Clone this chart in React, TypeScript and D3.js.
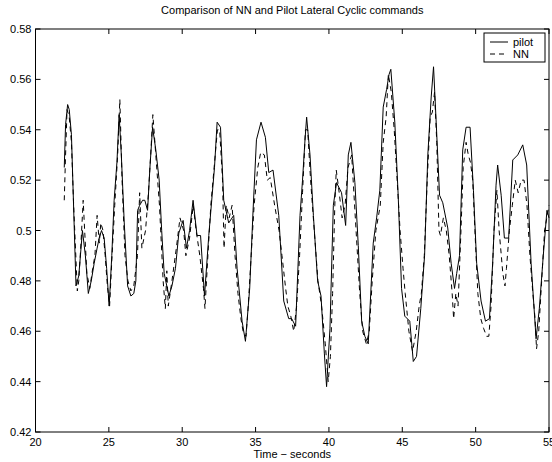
import React from 'react';
import * as d3 from 'd3';

// pilot lateral cyclic command (time s, value)
const pilotT = [21.96, 22.05, 22.19, 22.3, 22.45, 22.76, 22.95, 23.2, 23.4, 23.6, 23.8, 24.0, 24.2, 24.34, 24.5, 24.68, 24.85, 25.02,
  25.2, 25.36, 25.55, 25.7, 25.85, 26.05, 26.28, 26.5, 26.7, 26.84, 26.96, 27.1, 27.3, 27.45, 27.64, 27.8, 27.98, 28.2, 28.43, 28.6,
  28.77, 29.09, 29.3, 29.54, 29.77, 30.06, 30.29, 30.5, 30.74, 31.01, 31.25, 31.52, 31.81, 32.04, 32.2, 32.38, 32.61, 32.83, 33.17,
  33.51, 33.74, 34.08, 34.31, 34.6, 34.83, 35.06, 35.37, 35.67, 35.9, 36.19, 36.58, 36.92, 37.26, 37.46, 37.73, 38.03, 38.2, 38.37,
  38.48, 38.71, 38.94, 39.23, 39.46, 39.69, 39.84, 40.07, 40.3, 40.52, 40.86, 41.14, 41.32, 41.5, 41.77, 42.0, 42.23, 42.45, 42.68,
  43.02, 43.25, 43.47, 43.7, 43.93, 44.1, 44.22, 44.49, 44.72, 44.95, 45.17, 45.51, 45.75, 45.97, 46.26, 46.52, 46.74, 46.97, 47.13,
  47.31, 47.54, 47.76, 48.1, 48.33, 48.56, 48.71, 48.9, 49.12, 49.35, 49.62, 49.85, 50.07, 50.37, 50.67, 50.94, 51.16, 51.39, 51.5,
  51.74, 51.96, 52.25, 52.53, 52.87, 53.21, 53.48, 53.78, 54.12, 54.34, 54.61, 54.86, 55.0];
const pilotV = [0.525, 0.542, 0.55, 0.548, 0.538, 0.478, 0.482, 0.5, 0.49, 0.475, 0.48, 0.487, 0.493, 0.497, 0.5, 0.497, 0.485, 0.47,
  0.49, 0.512, 0.527, 0.546, 0.53, 0.503, 0.478, 0.474, 0.475, 0.48, 0.508, 0.51, 0.512, 0.512, 0.508, 0.525, 0.541, 0.532, 0.52, 0.5,
  0.483, 0.474, 0.478, 0.485, 0.499, 0.504, 0.493, 0.5, 0.512, 0.498, 0.498, 0.474, 0.498, 0.514, 0.525, 0.543, 0.541, 0.512, 0.503,
  0.506, 0.485, 0.464, 0.456, 0.477, 0.508, 0.536, 0.543, 0.537, 0.523, 0.524, 0.506, 0.472, 0.465, 0.465, 0.462, 0.506, 0.52, 0.536,
  0.545, 0.53, 0.506, 0.48, 0.474, 0.451, 0.438, 0.461, 0.51, 0.519, 0.515, 0.502, 0.53, 0.535, 0.519, 0.494, 0.464, 0.458, 0.455,
  0.495, 0.505, 0.516, 0.549, 0.556, 0.562, 0.564, 0.543, 0.514, 0.477, 0.466, 0.464, 0.448, 0.45, 0.469, 0.49, 0.53, 0.553, 0.565,
  0.543, 0.514, 0.511, 0.501, 0.487, 0.477, 0.483, 0.49, 0.532, 0.541, 0.541, 0.516, 0.487, 0.472, 0.464, 0.465, 0.487, 0.518, 0.526,
  0.514, 0.497, 0.497, 0.528, 0.53, 0.534, 0.526, 0.487, 0.457, 0.469, 0.49, 0.508, 0.505];

// neural network output
const nnT = [21.96, 22.05, 22.15, 22.3, 22.45, 22.6, 22.85, 22.95, 23.1, 23.25, 23.35, 23.5, 23.7, 23.9, 24.05, 24.2, 24.35, 24.45,
  24.6, 24.75, 24.9, 25.05, 25.2, 25.4, 25.6, 25.75, 25.9, 26.1, 26.3, 26.5, 26.7, 26.95, 27.1, 27.25, 27.5, 27.7, 27.85, 28.0, 28.2,
  28.45, 28.7, 28.85, 28.95, 29.05, 29.3, 29.6, 29.85, 30.1, 30.25, 30.5, 30.75, 30.95, 31.2, 31.45, 31.55, 31.75, 31.95, 32.1, 32.25,
  32.4, 32.55, 32.75, 32.85, 33.0, 33.2, 33.4, 33.6, 33.8, 34.0, 34.15, 34.35, 34.5, 34.7, 34.9, 35.15, 35.35, 35.6, 35.8, 36.0, 36.3,
  36.6, 36.8, 37.05, 37.2, 37.4, 37.6, 37.8, 38.0, 38.2, 38.4, 38.55, 38.75, 39.0, 39.25, 39.5, 39.75, 39.95, 40.1, 40.25, 40.4, 40.5,
  40.7, 40.9, 41.1, 41.3, 41.55, 41.85, 42.1, 42.3, 42.55, 42.75, 42.95, 43.2, 43.5, 43.7, 43.9, 44.05, 44.25, 44.45, 44.65, 44.85,
  45.05, 45.2, 45.45, 45.7, 45.95, 46.15, 46.3, 46.5, 46.7, 46.9, 47.05, 47.2, 47.35, 47.5, 47.6, 47.8, 48.0, 48.2, 48.4, 48.5, 48.65,
  48.8, 49.0, 49.15, 49.35, 49.5, 49.65, 49.8, 49.95, 50.15, 50.35, 50.55, 50.75, 50.9, 51.05, 51.25, 51.45, 51.6, 51.75, 51.85, 52.0,
  52.1, 52.3, 52.5, 52.7, 52.9, 53.1, 53.3, 53.5, 53.7, 53.9, 54.05, 54.15, 54.3, 54.5, 54.7, 54.85, 55.0];
const nnV = [0.512, 0.53, 0.548, 0.545, 0.535, 0.51, 0.476, 0.48, 0.495, 0.512, 0.5, 0.483, 0.477, 0.485, 0.49, 0.506, 0.495, 0.503,
  0.5, 0.49, 0.478, 0.47, 0.488, 0.51, 0.53, 0.552, 0.52, 0.49, 0.48, 0.476, 0.478, 0.49, 0.515, 0.493, 0.5, 0.515, 0.53, 0.546, 0.53,
  0.51, 0.48, 0.469, 0.484, 0.47, 0.48, 0.493, 0.505, 0.5, 0.49, 0.497, 0.51, 0.5, 0.49, 0.477, 0.469, 0.49, 0.51, 0.52, 0.53, 0.54,
  0.54, 0.52, 0.493, 0.51, 0.505, 0.51, 0.49, 0.475, 0.465, 0.46, 0.458, 0.47, 0.49, 0.51, 0.525, 0.531, 0.53, 0.52, 0.521, 0.51,
  0.5, 0.49, 0.477, 0.47, 0.466, 0.46, 0.47, 0.49, 0.515, 0.54, 0.54, 0.52, 0.5, 0.48, 0.47, 0.455, 0.44, 0.45, 0.475, 0.51, 0.524,
  0.515, 0.505, 0.51, 0.525, 0.53, 0.5, 0.475, 0.46, 0.455, 0.46, 0.48, 0.5, 0.51, 0.535, 0.545, 0.562, 0.555, 0.54, 0.52, 0.5, 0.485,
  0.475, 0.46, 0.452, 0.46, 0.47, 0.475, 0.49, 0.52, 0.545, 0.547, 0.555, 0.535, 0.5, 0.498, 0.505, 0.5, 0.49, 0.475, 0.465, 0.475,
  0.47, 0.5, 0.525, 0.535, 0.53, 0.527, 0.52, 0.5, 0.475, 0.465, 0.461, 0.458, 0.458, 0.47, 0.5, 0.516, 0.5, 0.49, 0.483, 0.478,
  0.485, 0.5, 0.51, 0.52, 0.515, 0.52, 0.52, 0.51, 0.49, 0.475, 0.465, 0.453, 0.46, 0.48, 0.5, 0.505, 0.51];

const xTicks = [20, 25, 30, 35, 40, 45, 50, 55];
const yTicks = [0.42, 0.44, 0.46, 0.48, 0.5, 0.52, 0.54, 0.56, 0.58];

const W = 552, H = 462;
const left = 35.5, right = 549, top = 29, bottom = 432;
const font = 'Liberation Sans, Arial, sans-serif';

export default function App() {
  const x = d3.scaleLinear().domain([20, 55]).range([left, right]);
  const y = d3.scaleLinear().domain([0.42, 0.58]).range([bottom, top]);

  const line = d3.line<[number, number]>().x(d => x(d[0])).y(d => y(d[1]));
  const pilot = line(pilotT.map((t, i) => [t, pilotV[i]] as [number, number])) || '';
  const nn = line(nnT.map((t, i) => [t, nnV[i]] as [number, number])) || '';

  const tk = 5;
  return (
    <svg width={W} height={H} style={{ position: 'absolute', left: 0, top: 0, background: '#fff' }}>
      <rect width={W} height={H} fill="#fff" />
      <text x={(left + right) / 2} y={14} fontSize={11} fontFamily={font} textAnchor="middle">
        Comparison of NN and Pilot Lateral Cyclic commands
      </text>

      <g fill="none" strokeWidth={1}>
        <path d={nn} stroke="#000" strokeDasharray="5,4" />
        <path d={pilot} stroke="#000" />
      </g>

      <rect x={left} y={top} width={right - left} height={bottom - top} fill="none" stroke="#000" strokeWidth={1} />

      {xTicks.map(t => (
        <g key={'x' + t}>
          <line x1={x(t)} x2={x(t)} y1={bottom} y2={bottom - tk} stroke="#000" />
          <line x1={x(t)} x2={x(t)} y1={top} y2={top + tk} stroke="#000" />
          <text x={x(t)} y={bottom + 14} fontSize={11} fontFamily={font} textAnchor="middle">{t}</text>
        </g>
      ))}
      {yTicks.map(t => (
        <g key={'y' + t}>
          <line x1={left} x2={left + tk} y1={y(t)} y2={y(t)} stroke="#000" />
          <line x1={right} x2={right - tk} y1={y(t)} y2={y(t)} stroke="#000" />
          <text x={left - 4} y={y(t) + 4} fontSize={11} fontFamily={font} textAnchor="end">{String(t)}</text>
        </g>
      ))}

      <text x={(left + right) / 2} y={458} fontSize={11} fontFamily={font} textAnchor="middle">Time − seconds</text>

      <g>
        <rect x={484} y={33} width={61} height={29} fill="#fff" stroke="#000" />
        <line x1={490} x2={508} y1={42} y2={42} stroke="#000" />
        <line x1={490} x2={508} y1={54} y2={54} stroke="#000" strokeDasharray="5,4" />
        <text x={513} y={46} fontSize={11} fontFamily={font}>pilot</text>
        <text x={513} y={58} fontSize={11} fontFamily={font}>NN</text>
      </g>
    </svg>
  );
}
